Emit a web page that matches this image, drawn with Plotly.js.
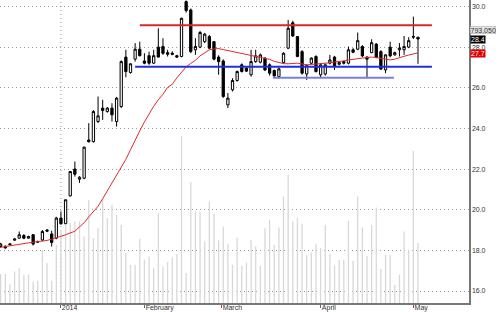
<!DOCTYPE html>
<html><head><meta charset="utf-8">
<script src="https://cdn.plot.ly/plotly-3.0.1.min.js"></script>
<style>html,body{margin:0;padding:0;background:#fff}#chart{width:500px;height:312px}</style>
</head><body><div id="chart"></div>
<script>
// Daily bars, index 0 = first bar shown (mid-December 2013)
const open = [18.19,18.20,18.32,18.50,18.60,18.73,18.60,18.77,18.43,18.51,
19.00,18.81,18.60,19.59,19.31,20.68,22.00,21.50,21.55,23.43,
23.35,24.34,25.00,24.83,25.00,24.34,25.08,27.51,26.75,27.41,
27.90,27.32,27.58,27.21,28.00,28.03,27.73,27.70,27.58,27.54,
30.24,29.83,27.87,28.00,28.27,28.52,28.27,27.51,27.32,25.16,
25.90,26.36,27.13,26.97,26.64,27.29,27.26,27.46,27.13,26.85,
26.55,27.24,27.95,29.20,28.52,27.78,26.68,27.21,27.54,26.64,
26.68,27.21,27.51,27.16,27.29,27.21,27.87,27.90,28.03,27.51,
27.73,28.15,27.78,26.88,28.00,27.62,27.87,27.87,28.00,28.52,28.49];
const high = [18.37,18.25,18.35,18.60,18.93,18.80,18.72,18.80,18.48,19.00,
19.05,18.97,19.65,19.91,20.50,21.90,22.37,21.65,23.10,24.26,
24.90,25.57,25.41,25.05,25.24,25.55,27.35,27.87,27.20,28.20,
28.27,27.70,27.78,27.87,28.93,28.44,27.87,27.80,27.62,29.45,
30.30,29.90,28.44,28.80,28.70,28.60,28.30,27.60,27.40,25.74,
26.47,26.85,27.20,27.05,27.87,27.87,27.68,27.50,27.20,26.90,
27.00,27.75,29.34,29.30,28.55,27.85,27.15,27.50,27.60,27.20,
27.20,27.62,27.57,27.30,27.35,28.03,27.95,28.72,28.10,27.55,
28.39,28.20,27.85,27.65,28.27,27.78,28.20,28.55,28.49,29.50,28.50];
const low = [18.13,18.08,18.25,18.47,18.58,18.55,18.58,18.24,18.38,18.45,
18.90,18.19,18.55,19.26,19.30,20.65,21.63,21.32,21.50,23.30,
23.30,24.26,24.42,24.78,24.34,24.09,25.00,26.52,26.70,27.29,
27.54,27.16,27.13,27.18,27.50,27.62,27.54,27.60,27.47,27.50,
29.70,27.70,27.62,27.95,28.20,27.90,27.35,26.64,25.50,25.00,
25.82,26.30,26.75,26.78,26.55,27.23,27.20,26.82,26.60,26.50,
26.45,27.20,27.90,28.50,27.50,26.65,26.39,27.15,26.75,26.47,
26.60,27.15,26.88,27.10,27.15,27.15,27.70,27.85,27.50,26.47,
27.70,27.45,26.88,26.72,27.50,27.58,27.54,27.62,27.95,28.40,27.18];
const close = [18.31,18.12,18.28,18.56,18.77,18.60,18.68,18.31,18.41,18.93,
18.95,18.39,19.59,19.31,20.49,21.88,21.75,21.60,23.08,23.35,
24.83,24.62,24.88,25.00,24.67,25.49,27.29,26.80,27.18,27.90,
27.58,27.21,27.21,27.58,27.51,27.70,27.65,27.65,27.51,29.42,
29.80,27.78,28.03,28.72,28.64,27.95,27.41,27.29,25.57,25.49,
26.36,26.80,26.80,26.82,27.29,27.57,27.62,26.88,26.72,26.59,
26.93,27.70,28.93,28.55,27.54,26.72,27.09,27.46,26.80,27.13,
27.13,27.37,27.05,27.24,27.21,27.87,27.75,28.32,27.57,27.41,
28.22,27.49,26.92,27.62,27.57,27.73,27.95,28.03,28.32,28.50,28.40];
const volume = [383000,383000,255000,418000,463000,374000,374000,282000,295000,705000,
529000,295000,771000,969000,1035000,1062000,1079000,1079000,881000,1366000,
859000,992000,1366000,1124000,1300000,1168000,1035000,661000,506000,506000,
846000,573000,616000,463000,1190000,484000,542000,603000,648000,2212000,
397000,1600000,1211000,1211000,814000,1343000,1181000,828000,1013000,784000,
506000,859000,493000,537000,837000,748000,493000,992000,1101000,771000,
1000000,1409000,1696000,1079000,1124000,1048000,639000,669000,784000,727000,
1035000,652000,493000,573000,573000,1088000,559000,1409000,1000000,625000,
1031000,1264000,454000,639000,639000,242000,374000,947000,705000,2014000,793050];
const movingAvg = [18.15,18.19,18.24,18.28,18.31,18.34,18.37,18.40,18.42,18.45,
18.49,18.55,18.64,18.69,18.77,18.84,18.94,19.16,19.36,19.65,
19.90,20.17,20.54,20.93,21.32,21.64,22.06,22.48,22.95,23.44,
23.88,24.32,24.72,25.09,25.41,25.68,26.02,26.17,26.49,26.76,
27.03,27.20,27.35,27.57,27.74,27.87,27.91,27.93,27.88,27.83,
27.79,27.75,27.69,27.64,27.61,27.56,27.50,27.45,27.40,27.30,
27.23,27.19,27.18,27.20,27.21,27.17,27.13,27.15,27.17,27.17,
27.20,27.23,27.27,27.29,27.32,27.37,27.41,27.43,27.46,27.49,
27.51,27.49,27.46,27.41,27.37,27.41,27.49,27.55,27.61,27.67,27.72];

// Month ticks (bar-index positions) and labels
const tickVals = [12.9, 31, 47.6, 69, 89];
const tickText = ['2014', 'February', 'March', 'April', 'May'];

// Horizontal support / resistance levels
const levelPrice = [29.08, 27.04, 26.50];
const levelFrom  = [30, 29, 58.7];
const levelTo    = [93, 93, 84.8];
const levelColor = ['#d42a2a', '#1f2fe0', '#7a7ee0'];

const idx = open.map((_, i) => i);
const last = open.length - 1;

const traces = [
  {type:'bar', x:idx, y:volume, xaxis:'x', yaxis:'y', width:0.28,
   marker:{color:'#d8d8d8', line:{width:0}}, hoverinfo:'skip'},
  {type:'candlestick', x:idx, open:open, high:high, low:low, close:close,
   xaxis:'x', yaxis:'y2', whiskerwidth:0,
   increasing:{line:{color:'#000', width:1}, fillcolor:'#fff'},
   decreasing:{line:{color:'#000', width:1}, fillcolor:'#000'}},
  {type:'scatter', mode:'lines', x:idx, y:movingAvg, xaxis:'x', yaxis:'y2',
   line:{color:'#e02a2a', width:1}, hoverinfo:'skip'}
];
levelPrice.forEach((p, k) => {
  traces.push({type:'scatter', mode:'lines', x:[levelFrom[k], levelTo[k]], y:[p, p],
    xaxis:'x', yaxis:'y2', line:{color:levelColor[k], width:2}, hoverinfo:'skip'});
});

const layout = {
  width:500, height:312,
  margin:{l:0, r:31, t:0, b:9, pad:0},
  paper_bgcolor:'#fff', plot_bgcolor:'#fff',
  showlegend:false,
  font:{family:'Liberation Sans, Arial, sans-serif', size:7, color:'#333'},
  boxgap:0.3,
  xaxis:{type:'linear', range:[-0.145, 101.0], tickvals:tickVals, ticktext:tickText,
    ticks:'outside', ticklen:3, tickcolor:'#666', tickwidth:1,
    ticklabelposition:'outside right', ticklabelstandoff:-3,
    showgrid:false, zeroline:false, showline:true, linecolor:'#777', linewidth:1.5,
    rangeslider:{visible:false}, fixedrange:true, tickfont:{size:7, color:'#333'}},
  yaxis:{range:[0, 4.01e6], visible:false, fixedrange:true, showgrid:false},
  yaxis2:{overlaying:'y', side:'right', range:[15.41, 30.32], tick0:16, dtick:2,
    tickformat:'.1f', showgrid:true, gridcolor:'#999', griddash:'1px,3px', gridwidth:1,
    zeroline:false, showline:true, linecolor:'#777', linewidth:1.5, ticks:'',
    fixedrange:true, tickfont:{size:7, color:'#333'}},
  shapes:[{type:'line', xref:'x', yref:'paper', x0:13, x1:13, y0:0, y1:1,
    line:{color:'#999', width:1, dash:'1px,3px'}, layer:'below'}],
  annotations:[
    {xref:'paper', x:1, xanchor:'left', xshift:1, yref:'y2', y:28.86, yanchor:'middle',
     text:volume[last].toLocaleString('en-US'), showarrow:false, height:7,
     bgcolor:'#e4e4e4', bordercolor:'#aaa', borderwidth:0.5, borderpad:0,
     font:{size:7, color:'#333'}},
    {xref:'paper', x:1, xanchor:'left', xshift:1, yref:'y2', y:close[last], yanchor:'middle',
     text:close[last].toFixed(1), showarrow:false, bgcolor:'#000', borderpad:0, height:7,
     font:{size:7, color:'#fff'}},
    {xref:'paper', x:1, xanchor:'left', xshift:1, yref:'y2', y:movingAvg[last], yanchor:'middle',
     yshift:-1, text:movingAvg[last].toFixed(1), showarrow:false, bgcolor:'#e00000',
     borderpad:0, height:7, font:{size:7, color:'#fff'}}
  ]
};

Plotly.newPlot('chart', traces, layout, {staticPlot:true, displayModeBar:false});
</script></body></html>
